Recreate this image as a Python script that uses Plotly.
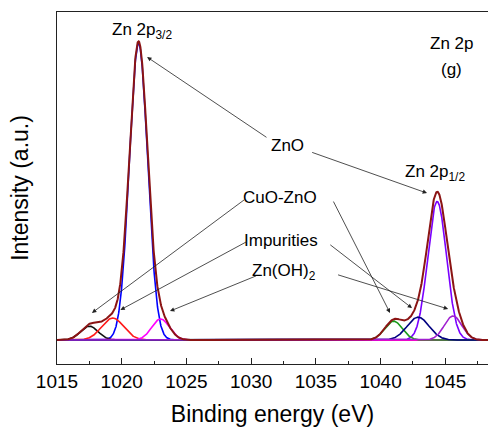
import numpy as np
import plotly.graph_objects as go

# Fitted Zn 2p components: centre (eV), height (a.u.), FWHM (eV)
peak_names = ["ZnO 2p3/2", "CuO-ZnO 2p3/2", "Impurities 2p3/2", "Zn(OH)2 2p3/2",
              "ZnO 2p1/2", "CuO-ZnO 2p1/2", "Impurities 2p1/2", "Zn(OH)2 2p1/2"]
peak_centers = [1021.3, 1017.5, 1019.3, 1023.0, 1044.37, 1041.0, 1042.9, 1045.6]
peak_heights = [98.5, 4.6, 7.3, 7.0, 46.0, 6.3, 7.6, 8.0]
peak_fwhm = [1.65, 1.6, 2.0, 1.6, 1.7, 1.6, 2.0, 1.6]
peak_colors = ["#0000ff", "#111111", "#ff1a1a", "#ff00ff",
               "#7a00ff", "#1a9a1a", "#000080", "#a020d0"]
envelope_color = "#8b1414"

x_range = [1015, 1048.3]
x_ticks = [1015, 1020, 1025, 1030, 1035, 1040, 1045]

energy = np.linspace(x_range[0], x_range[1], 2000)


def gaussian(x, c, h, w):
    s = w / (2 * np.sqrt(2 * np.log(2)))
    return h * np.exp(-0.5 * ((x - c) / s) ** 2)


components = [gaussian(energy, c, h, w)
              for c, h, w in zip(peak_centers, peak_heights, peak_fwhm)]
envelope = np.sum(components, axis=0)

fig = go.Figure()
for name, comp, col in zip(peak_names, components, peak_colors):
    fig.add_trace(go.Scatter(x=energy, y=comp, mode="lines", name=name,
                             line=dict(color=col, width=1.6)))
fig.add_trace(go.Scatter(x=energy, y=envelope, mode="lines", name="Envelope",
                         line=dict(color=envelope_color, width=2)))

font_family = "Liberation Sans, Arial, sans-serif"

# Text labels (x, y in data units)
labels = [
    ("Zn 2p<sub>3/2</sub>", 1021.6, 102.5),
    ("Zn 2p<sub>1/2</sub>", 1044.2, 55.5),
    ("Zn 2p", 1045.5, 98.5),
    ("(g)", 1045.5, 90.0),
    ("ZnO", 1032.8, 64.5),
    ("CuO-ZnO", 1032.2, 47.5),
    ("Impurities", 1032.3, 33.0),
    ("Zn(OH)<sub>2</sub>", 1032.5, 22.5),
]

# Pointer arrows: (tail x, tail y, head x, head y)
arrows = [
    (1031.3, 67.0, 1021.96, 94.0),
    (1034.6, 62.5, 1043.59, 48.8),
    (1029.6, 47.0, 1017.7, 9.0),
    (1036.3, 46.5, 1040.73, 9.0),
    (1029.8, 33.0, 1019.9, 10.0),
    (1036.0, 32.0, 1042.43, 10.6),
    (1030.5, 21.5, 1023.73, 9.6),
    (1036.6, 21.8, 1045.22, 10.3),
]

annotations = []
for text, x, y in labels:
    annotations.append(dict(x=x, y=y, xref="x", yref="y", text=text,
                            showarrow=False,
                            font=dict(family=font_family, size=17, color="black")))
for tx, ty, hx, hy in arrows:
    annotations.append(dict(x=hx, y=hy, ax=tx, ay=ty, xref="x", yref="y",
                            axref="x", ayref="y", text="", showarrow=True,
                            arrowhead=2, arrowsize=1.1, arrowwidth=0.8,
                            arrowcolor="#222222", standoff=0, startstandoff=0))

fig.update_layout(
    width=488, height=428,
    margin=dict(l=57, r=0, t=12, b=64),
    paper_bgcolor="white", plot_bgcolor="white",
    showlegend=False,
    font=dict(family=font_family, color="black"),
    annotations=annotations,
)
fig.update_xaxes(
    range=x_range, tickvals=x_ticks,
    ticks="inside", ticklen=6, tickwidth=1.2, tickcolor="#222222",
    minor=dict(dtick=2.5, tick0=1015, ticks="inside", ticklen=3,
               tickwidth=1, tickcolor="#222222"),
    showline=True, linecolor="#222222", linewidth=1.3, mirror=True,
    showgrid=False, zeroline=False,
    tickfont=dict(family=font_family, size=19, color="black"),
    title=dict(text="Binding energy (eV)", standoff=14,
               font=dict(family=font_family, size=23, color="black")),
)
fig.update_yaxes(
    range=[-7.97, 108.97], showticklabels=False, ticks="",
    showline=True, linecolor="#222222", linewidth=1.3, mirror=True,
    showgrid=False, zeroline=False,
    title=dict(text="Intensity (a.u.)", standoff=20,
               font=dict(family=font_family, size=23, color="black")),
)

fig.write_html("out.html")
